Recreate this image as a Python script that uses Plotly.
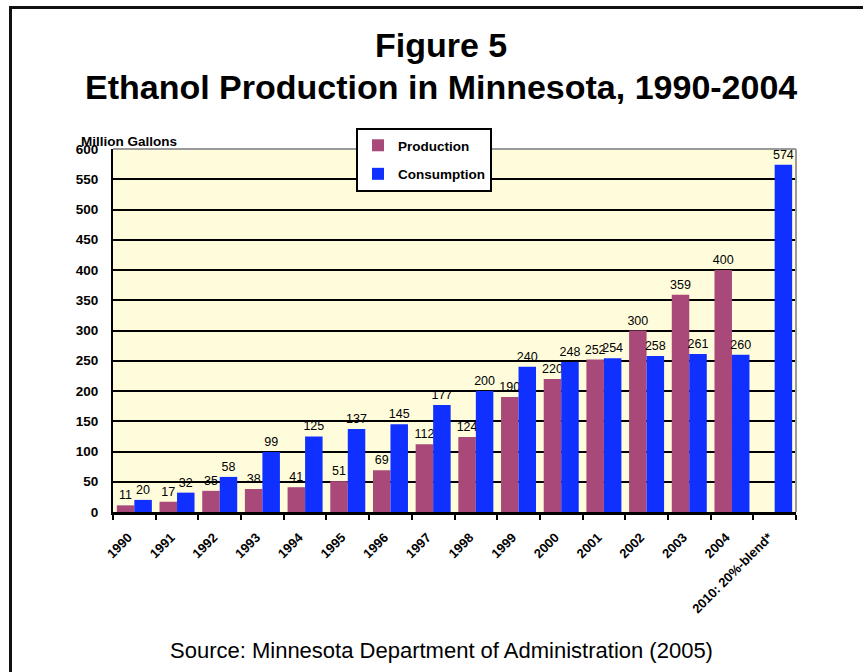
import plotly.graph_objects as go

categories = ["1990", "1991", "1992", "1993", "1994", "1995", "1996", "1997",
              "1998", "1999", "2000", "2001", "2002", "2003", "2004", "2010: 20%-blend*"]
production = [11, 17, 35, 38, 41, 51, 69, 112, 124, 190, 220, 252, 300, 359, 400, None]
consumption = [20, 32, 58, 99, 125, 137, 145, 177, 200, 240, 248, 254, 258, 261, 260, 574]
y_ticks = [0, 50, 100, 150, 200, 250, 300, 350, 400, 450, 500, 550, 600]

FONT = "Liberation Sans, Arial, sans-serif"
W, H = 863, 672
L, R, T, B = 113, 796, 149, 512  # plot area in px


def px_x(x):
    return (x - L) / (R - L)


def px_y(y):
    return (B - y) / (B - T)


def lab(vals):
    return ["" if v is None else str(v) for v in vals]


fig = go.Figure()
fig.add_trace(go.Bar(
    name="Production", x=categories, y=production, text=lab(production),
    textposition="outside", marker=dict(color="#A8497A", line=dict(width=0)),
    outsidetextfont=dict(family=FONT, size=12.5, color="black"),
    constraintext="none", cliponaxis=False, legendgroup="p",
))
fig.add_trace(go.Bar(
    name="Consumption", x=categories, y=consumption, text=lab(consumption),
    textposition="outside", marker=dict(color="#1030FF", line=dict(width=0)),
    outsidetextfont=dict(family=FONT, size=12.5, color="black"),
    constraintext="none", cliponaxis=False, legendgroup="c",
))

fig.update_layout(
    width=W, height=H,
    margin=dict(l=L, r=W - R, t=T, b=H - B, pad=0),
    paper_bgcolor="white",
    plot_bgcolor="#FFFCDC",
    barmode="group", bargap=0.18, bargroupgap=0,
    font=dict(family=FONT, color="black"),
    showlegend=True,
    legend=dict(
        x=px_x(356), y=px_y(128), xanchor="left", yanchor="top",
        bgcolor="white", bordercolor="black", borderwidth=2,
        font=dict(family=FONT, size=13.5, color="black", weight="bold"),
        traceorder="grouped", tracegroupgap=8, itemwidth=30,
    ),
    xaxis=dict(
        type="category", showgrid=False, showline=True, linecolor="black", linewidth=2.5,
        ticks="outside", tickson="boundaries", ticklen=5, tickwidth=2, tickcolor="black",
        tickangle=-45, tickfont=dict(family=FONT, size=13, color="black", weight="bold"),
        ticklabelstandoff=10, ticklabelshift=-6,
        range=[-0.5, len(categories) - 0.5], fixedrange=True,
    ),
    yaxis=dict(
        range=[0, 600], tickvals=y_ticks, showgrid=True, gridcolor="black", gridwidth=2,
        showline=True, linecolor="black", linewidth=2, ticks="", zeroline=False,
        ticklabelstandoff=10,
        tickfont=dict(family=FONT, size=13.5, color="black", weight="bold"),
        fixedrange=True,
    ),
    shapes=[
        dict(type="line", xref="paper", yref="paper", x0=0, x1=1, y0=1, y1=1,
             line=dict(color="#9A9A9A", width=2), layer="above"),
        dict(type="line", xref="paper", yref="paper", x0=1, x1=1, y0=0, y1=1,
             line=dict(color="#9A9A9A", width=2), layer="above"),
        dict(type="path", xref="paper", yref="paper",
             path=f"M {px_x(10.5)} {px_y(H + 5)} L {px_x(10.5)} {px_y(7.5)} L {px_x(W + 5)} {px_y(7.5)}",
             line=dict(color="#111111", width=3), layer="above"),
    ],
    annotations=[
        dict(text="<b>Figure 5</b>", x=px_x(441), y=px_y(45), xref="paper", yref="paper",
             xanchor="center", yanchor="middle", showarrow=False,
             font=dict(family=FONT, size=34, color="black")),
        dict(text="<b>Ethanol Production in Minnesota, 1990-2004</b>", x=px_x(441), y=px_y(87),
             xref="paper", yref="paper", xanchor="center", yanchor="middle", showarrow=False,
             font=dict(family=FONT, size=34, color="black")),
        dict(text="<b>Million Gallons</b>", x=px_x(79), y=px_y(141), xref="paper", yref="paper",
             xanchor="left", yanchor="middle", showarrow=False,
             font=dict(family=FONT, size=13.5, color="black")),
        dict(text="Source: Minnesota Department of Administration (2005)", x=px_x(441), y=px_y(650),
             xref="paper", yref="paper", xanchor="center", yanchor="middle", showarrow=False,
             font=dict(family=FONT, size=22, color="black")),
    ],
)

fig.write_html("out.html", config={"displayModeBar": False},
               post_script="document.body.style.margin='0';")
